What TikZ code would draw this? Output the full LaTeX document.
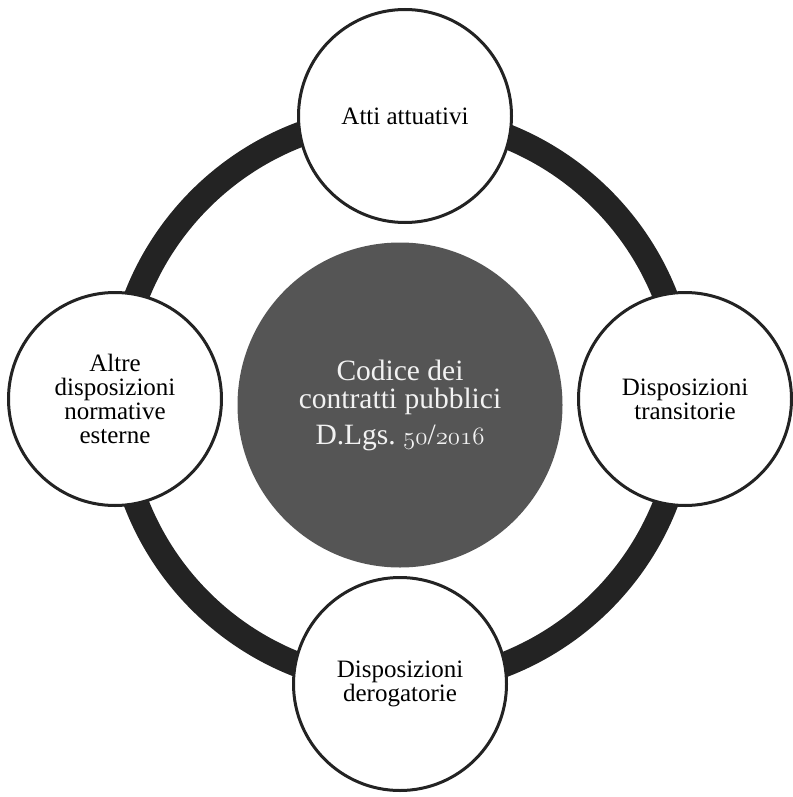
\documentclass[tikz,border=0pt]{standalone}
\usepackage{fontspec}
\setmainfont{Liberation Serif}
\newcommand\osfdigits[1]{{\fontsize{32}{28}\usefont{OML}{cmm}{m}{it}#1}}
\definecolor{ringc}{HTML}{232323}
\definecolor{hubc}{HTML}{555555}
\definecolor{hubtext}{HTML}{F2F2F2}
\tikzset{
  ring/.style={draw=ringc, line width=25pt},
  satellite/.style={circle, draw=ringc, line width=3pt, fill=white, minimum size=213pt, inner sep=0pt, align=center, text=black, font=\fontsize{25}{24}\selectfont},
  hub/.style={circle, fill=hubc, minimum size=325pt, inner sep=0pt, align=center, text=hubtext, font=\fontsize{29.5}{28}\selectfont}
}
\begin{document}
\begin{tikzpicture}[x=1pt,y=-1pt]
\useasboundingbox (0,0) rectangle (792,797);
\coordinate (o) at (401,400);
\draw[ring] (o) circle[radius=284pt];
\node[hub] (hub) at (400,405) {Codice dei\\contratti pubblici\\[8pt]D.Lgs.\ \osfdigits{50}/\osfdigits{2016}};
\node[satellite] (top) at (405,116) {Atti attuativi};
\node[satellite] (left) at (115,399) {Altre\\disposizioni\\normative\\esterne};
\node[satellite] (right) at (685,399) {Disposizioni\\transitorie};
\node[satellite] (bottom) at (400,684) {Disposizioni\\derogatorie};
\end{tikzpicture}
\end{document}
